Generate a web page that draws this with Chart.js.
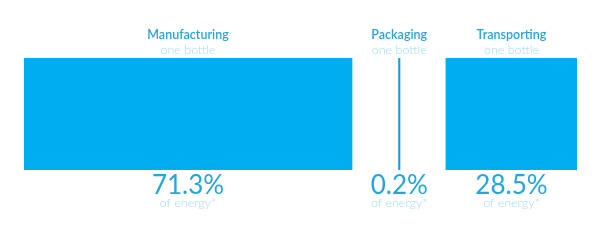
<!DOCTYPE html>
<html>
<head>
<meta charset="utf-8">
<script src="https://cdn.jsdelivr.net/npm/chart.js@4"></script>
<style>
  body { margin: 0; background: #fff; }
  #wrap { width: 600px; height: 241px; }
</style>
</head>
<body>
<div id="wrap"><canvas id="energyChart" width="600" height="241"></canvas></div>
<script>
// Energy share per stage of one bottle
const categories = ['Manufacturing', 'Packaging', 'Transporting'];
const shares = [71.3, 0.2, 28.5];
const valueLabels = ['71.3%', '0.2%', '28.5%'];
const subLabel = 'one bottle';
const footLabel = 'of energy*';

const GAP = 10.1; // space between stages, in share units
const barColor = '#00aeef';

// floating bars laid end to end with a gap between them
let cursor = 0;
const datasets = shares.map(function(v, i) {
    const start = cursor;
    cursor += v + GAP;
    return {
        label: categories[i],
        data: [{ x: [start, start + v], y: 'bottle' }],
        backgroundColor: i === 1 ? '#1a9fdc' : barColor,
        borderWidth: 0,
        barPercentage: 1,
        categoryPercentage: 1,
        minBarLength: 1.5
    };
});
const xMax = cursor - GAP;

const stageLabels = {
    id: 'stageLabels',
    afterDatasetsDraw(chart) {
        const ctx = chart.ctx;
        const area = chart.chartArea;
        ctx.save();
        ctx.textAlign = 'center';
        ctx.textBaseline = 'middle';
        chart.data.datasets.forEach(function(ds, i) {
            const bar = chart.getDatasetMeta(i).data[0];
            const cx = (bar.x + bar.base) / 2;
            ctx.fillStyle = '#2aa3dc';
            ctx.font = '600 12.5px Lato';
            ctx.fillText(categories[i], cx, area.top - 23);
            ctx.fillStyle = '#a3d9f2';
            ctx.font = '300 12.5px Lato';
            ctx.fillText(subLabel, cx, area.top - 8);
            ctx.fillStyle = '#22a5e0';
            ctx.font = '400 26px Lato';
            ctx.fillText(valueLabels[i], cx, area.bottom + 16);
            ctx.fillStyle = '#a3d9f2';
            ctx.font = '300 12.5px Lato';
            ctx.fillText(footLabel, cx, area.bottom + 33);
        });
        ctx.restore();
    }
};

new Chart(document.getElementById('energyChart'), {
    type: 'bar',
    data: { labels: ['bottle'], datasets: datasets },
    options: {
        indexAxis: 'y',
        responsive: false,
        animation: false,
        grouped: false,
        layout: { padding: { left: 24, right: 23, top: 58, bottom: 71 } },
        plugins: { legend: { display: false }, tooltip: { enabled: false } },
        scales: {
            x: { type: 'linear', min: 0, max: xMax, display: false },
            y: { display: false }
        }
    },
    plugins: [stageLabels]
});
</script>
</body>
</html>
